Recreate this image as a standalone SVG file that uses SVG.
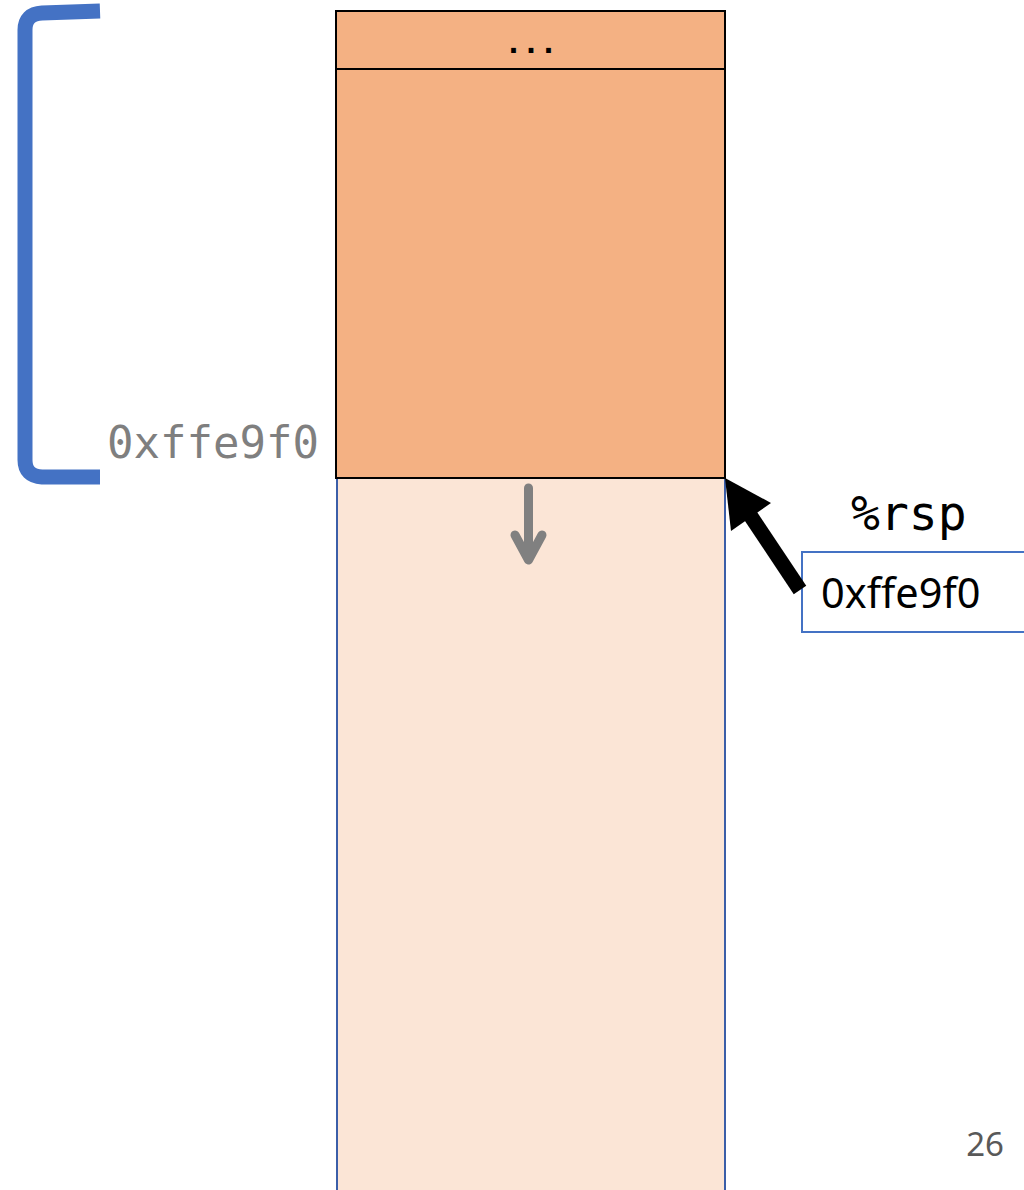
<svg xmlns="http://www.w3.org/2000/svg" width="1024" height="1190" viewBox="0 0 1024 1190">
  <style>
    .mono { font-family: "DejaVu Sans Mono", "Liberation Mono", monospace; }
    .sans { font-family: "Noto Sans", "Open Sans", sans-serif; }
    .cell { fill: #F4B183; stroke: #000; stroke-width: 2; }
  </style>

  <!-- free stack area below the frame -->
  <g id="free-area">
    <rect x="337" y="478" width="388" height="720" fill="#FBE5D6" stroke="#3B5EA8" stroke-width="2"/>
  </g>

  <!-- stack frame cells -->
  <g id="cell-top">
    <rect class="cell" x="336" y="11" width="389" height="58"/>
    <text class="mono" x="531" y="53" font-size="29" font-weight="bold" text-anchor="middle" fill="#000">...</text>
  </g>
  <g id="cell-frame">
    <rect class="cell" x="336" y="69" width="389" height="409"/>
  </g>

  <!-- frame bracket and its address -->
  <g id="bracket">
    <path d="M100,11 L42,13 Q25,14 25,30 L25,460 Q25,476 42,477 L100,477" fill="none" stroke="#4472C4" stroke-width="15"/>
    <text class="mono" x="107" y="458" font-size="44" fill="#7F7F7F">0xffe9f0</text>
  </g>

  <!-- register %rsp -->
  <g id="rsp">
    <text class="mono" x="851" y="530" font-size="48" fill="#000">%rsp</text>
    <rect x="802" y="552" width="240" height="80" fill="#fff" stroke="#4472C4" stroke-width="2"/>
    <text class="sans" x="821" y="608" font-size="41.5" fill="#000">0xffe9f0</text>
  </g>

  <!-- connectors -->
  <g id="connectors">
    <line x1="800" y1="590" x2="748" y2="512" stroke="#000" stroke-width="15"/>
    <path d="M725,478 L771,503 L731,531 Z" fill="#000"/>
    <g stroke="#808080" stroke-width="9" fill="none" stroke-linecap="round" stroke-linejoin="round">
      <line x1="528.5" y1="488" x2="528.5" y2="558"/>
      <polyline points="515,535 528.5,560 542,535"/>
    </g>
  </g>

  <!-- page number -->
  <text class="sans" x="1004" y="1156" font-size="33" fill="#595959" text-anchor="end">26</text>
</svg>
